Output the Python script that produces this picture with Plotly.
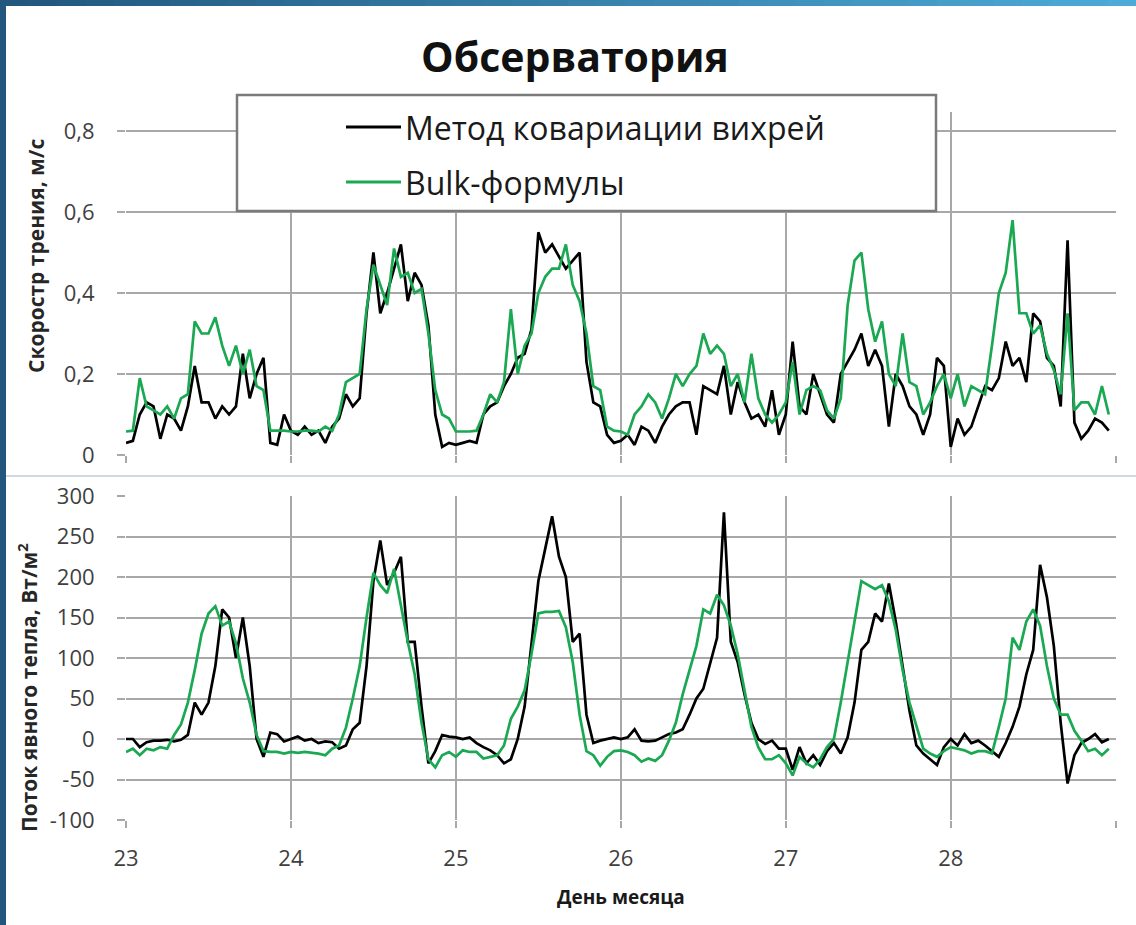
import numpy as np
import plotly.graph_objects as go
from plotly.subplots import make_subplots

# Observation days shown on the time axis
day_ticks = [23, 24, 25, 26, 27, 28, 29]
day_labels = ["23", "24", "25", "26", "27", "28", ""]

# Series names
series_names = ["Метод ковариации вихрей", "Bulk-формулы"]

# Hourly friction velocity, m/s (eddy covariance)
ustar_eddy = [
    0.03, 0.035, 0.10, 0.13, 0.12, 0.04, 0.10, 0.09, 0.06, 0.12, 0.22, 0.13, 0.13, 0.09, 0.12, 0.10, 0.12, 0.25, 0.14, 0.20, 0.24, 0.03, 0.025, 0.10,
    0.06, 0.05, 0.07, 0.05, 0.06, 0.03, 0.07, 0.09, 0.15, 0.12, 0.14, 0.35, 0.50, 0.35, 0.40, 0.46, 0.52, 0.38, 0.45, 0.42, 0.32, 0.10, 0.02, 0.03,
    0.025, 0.03, 0.035, 0.03, 0.10, 0.12, 0.13, 0.17, 0.20, 0.24, 0.25, 0.31, 0.55, 0.50, 0.52, 0.49, 0.46, 0.48, 0.50, 0.23, 0.13, 0.12, 0.05, 0.03,
    0.035, 0.05, 0.025, 0.07, 0.06, 0.03, 0.07, 0.10, 0.12, 0.13, 0.13, 0.05, 0.17, 0.16, 0.15, 0.22, 0.10, 0.18, 0.13, 0.09, 0.10, 0.07, 0.16, 0.05,
    0.10, 0.28, 0.12, 0.10, 0.20, 0.15, 0.10, 0.08, 0.20, 0.23, 0.26, 0.30, 0.22, 0.26, 0.22, 0.07, 0.20, 0.17, 0.12, 0.10, 0.05, 0.10, 0.24, 0.22,
    0.02, 0.09, 0.05, 0.07, 0.12, 0.17, 0.16, 0.19, 0.28, 0.22, 0.24, 0.18, 0.35, 0.33, 0.24, 0.22, 0.12, 0.53, 0.08, 0.04, 0.06, 0.09, 0.08, 0.06,
]

# Hourly friction velocity, m/s (bulk formulas)
ustar_bulk = [
    0.058, 0.06, 0.19, 0.12, 0.11, 0.10, 0.12, 0.09, 0.14, 0.15, 0.33, 0.30, 0.30, 0.34, 0.27, 0.22, 0.27, 0.20, 0.26, 0.17, 0.16, 0.06, 0.06, 0.06,
    0.058, 0.058, 0.06, 0.06, 0.058, 0.07, 0.06, 0.10, 0.18, 0.19, 0.20, 0.36, 0.47, 0.42, 0.37, 0.51, 0.44, 0.45, 0.40, 0.41, 0.30, 0.16, 0.10, 0.09,
    0.058, 0.058, 0.058, 0.06, 0.10, 0.15, 0.13, 0.18, 0.36, 0.20, 0.27, 0.30, 0.40, 0.44, 0.46, 0.46, 0.52, 0.42, 0.38, 0.30, 0.17, 0.16, 0.07, 0.06,
    0.058, 0.05, 0.10, 0.12, 0.15, 0.13, 0.09, 0.14, 0.20, 0.17, 0.20, 0.22, 0.30, 0.25, 0.27, 0.25, 0.17, 0.20, 0.13, 0.25, 0.14, 0.10, 0.08, 0.10,
    0.13, 0.23, 0.10, 0.16, 0.17, 0.16, 0.11, 0.09, 0.14, 0.37, 0.48, 0.50, 0.36, 0.28, 0.33, 0.20, 0.17, 0.30, 0.18, 0.17, 0.10, 0.13, 0.17, 0.20,
    0.14, 0.20, 0.12, 0.17, 0.16, 0.15, 0.27, 0.40, 0.45, 0.58, 0.35, 0.35, 0.30, 0.32, 0.25, 0.21, 0.15, 0.35, 0.11, 0.13, 0.13, 0.10, 0.17, 0.10,
]

# Hourly sensible heat flux, W/m2 (eddy covariance)
hflux_eddy = [
    0, 0, -10, -4, -2, -2, -1, -3, -1, 5, 45, 30, 45, 90, 160, 150, 100, 150, 90, 0, -22, 8, 6, -3,
    0, 3, -2, 0, -5, -3, -4, -12, -8, 12, 20, 90, 195, 245, 190, 205, 225, 120, 120, 40, -30, -15, 5, 3,
    2, 0, 2, -5, -10, -14, -20, -30, -25, 0, 40, 120, 195, 235, 275, 225, 200, 120, 130, 30, -5, -2, 0, 2,
    0, 2, 12, -2, -3, -2, 2, 6, 8, 12, 30, 50, 62, 95, 125, 280, 120, 95, 55, 20, 0, -6, -2, -12,
    -12, -38, -10, -30, -20, -32, -15, -5, -18, 2, 45, 110, 120, 155, 145, 192, 145, 90, 35, -8, -18, -25, -32, -10,
    0, -8, 6, -5, -2, -8, -15, -22, -5, 15, 40, 80, 110, 215, 175, 115, 20, -55, -20, -5, 0, 6, -4, 0,
]

# Hourly sensible heat flux, W/m2 (bulk formulas)
hflux_bulk = [
    -16, -12, -20, -12, -14, -10, -12, 5, 18, 45, 85, 130, 155, 164, 140, 145, 118, 75, 45, 5, -15, -16, -16, -18,
    -16, -17, -16, -17, -18, -20, -12, -8, 14, 50, 90, 150, 205, 190, 180, 210, 165, 120, 80, 20, -25, -35, -20, -16,
    -22, -14, -16, -16, -24, -22, -20, -8, 25, 40, 60, 105, 155, 157, 157, 158, 138, 95, 30, -15, -20, -33, -22, -15,
    -14, -16, -20, -28, -24, -27, -20, -2, 20, 55, 85, 115, 160, 155, 178, 165, 140, 105, 60, 15, -10, -25, -25, -20,
    -30, -45, -22, -30, -35, -25, -10, 0, 45, 95, 150, 195, 190, 185, 190, 170, 135, 85, 45, 15, -12, -18, -22, -15,
    -10, -12, -14, -18, -15, -15, -18, 15, 50, 125, 110, 145, 160, 140, 90, 50, 30, 30, 10, -2, -15, -12, -20, -12,
]

# Time stamps: one sample per hour starting at the 23rd
day_time = 23 + np.arange(len(ustar_eddy)) / 24.0

W, H = 1136, 925
BLACK = "#000000"
GREEN = "#1aa852"
GRID = "#a8a8a8"
FONT = "Open Sans"
LW = 2.7

fig = make_subplots(rows=2, cols=1)

fig.add_trace(go.Scatter(x=day_time, y=ustar_eddy, mode="lines", name=series_names[0],
                         line=dict(color=BLACK, width=LW)), row=1, col=1)
fig.add_trace(go.Scatter(x=day_time, y=ustar_bulk, mode="lines", name=series_names[1],
                         line=dict(color=GREEN, width=LW)), row=1, col=1)
fig.add_trace(go.Scatter(x=day_time, y=hflux_eddy, mode="lines", name=series_names[0],
                         line=dict(color=BLACK, width=LW)), row=2, col=1)
fig.add_trace(go.Scatter(x=day_time, y=hflux_bulk, mode="lines", name=series_names[1],
                         line=dict(color=GREEN, width=LW)), row=2, col=1)


def px_x(v):
    return v / W


def px_y(v):
    return 1 - v / H


xdom = [px_x(126), px_x(1116)]
tickfont = dict(family=FONT, size=22, color="#3f3f3f")

fig.update_xaxes(range=[23, 29.002], tickvals=day_ticks, ticktext=day_labels, showgrid=True,
                 gridcolor=GRID, gridwidth=1.5, ticks="outside", ticklen=7, tickcolor=GRID,
                 tickwidth=1.5, zeroline=False, showline=False, domain=xdom, tickfont=tickfont,
                 automargin=False)
fig.update_xaxes(showticklabels=False, row=1, col=1)
fig.update_xaxes(ticklabelstandoff=12, row=2, col=1)

fig.update_yaxes(range=[0, 0.847], tickvals=[0, 0.2, 0.4, 0.6, 0.8],
                 ticktext=["0", "0,2", "0,4", "0,6", "0,8"],
                 domain=[px_y(455), px_y(112)], row=1, col=1)
fig.update_yaxes(range=[-100, 300], tickvals=list(range(-100, 301, 50)),
                 ticktext=[str(v) for v in range(-100, 301, 50)],
                 domain=[px_y(820), px_y(496)], row=2, col=1)
fig.update_yaxes(showgrid=True, gridcolor=GRID, gridwidth=1.5, ticks="outside", ticklen=8,
                 tickcolor=GRID, tickwidth=1.5, zeroline=False, showline=False,
                 tickfont=tickfont, ticklabelstandoff=18, automargin=False)

shapes = []
# legend frame
shapes.append(dict(type="rect", xref="paper", yref="paper", x0=px_x(237), x1=px_x(936),
                   y0=px_y(211), y1=px_y(95), fillcolor="white",
                   line=dict(color="#7a7a7a", width=2.5), layer="above"))
# legend line samples
for yy, col in ((127, BLACK), (182, GREEN)):
    shapes.append(dict(type="line", xref="paper", yref="paper", x0=px_x(346), x1=px_x(401),
                       y0=px_y(yy), y1=px_y(yy), line=dict(color=col, width=3), layer="above"))
# panel separator
shapes.append(dict(type="line", xref="paper", yref="paper", x0=0, x1=1, y0=px_y(476), y1=px_y(476),
                   line=dict(color="#cdd8e0", width=2), layer="above"))
# slide frame: gradient bar on top, solid bar on the left
nseg = 40
c0 = np.array([0x22, 0x57, 0x7e])
c1 = np.array([0x4d, 0xab, 0xd7])
for i in range(nseg):
    t = i / (nseg - 1)
    c = (c0 * (1 - t) + c1 * t).astype(int)
    shapes.append(dict(type="rect", xref="paper", yref="paper",
                       x0=i / nseg, x1=(i + 1) / nseg + 0.002, y0=px_y(6), y1=1,
                       fillcolor="rgb(%d,%d,%d)" % tuple(c), line=dict(width=0), layer="above"))
shapes.append(dict(type="rect", xref="paper", yref="paper", x0=0, x1=px_x(6), y0=0, y1=1,
                   fillcolor="#22567c", line=dict(width=0), layer="above"))

label_font = dict(family=FONT, size=21, color="#262626", weight="bold")
annotations = [
    dict(text="Обсерватория", xref="paper", yref="paper", x=px_x(575), y=px_y(56),
         showarrow=False, xanchor="center", yanchor="middle",
         font=dict(family=FONT, size=41, color="#111111", weight="bold")),
    dict(text="Скоростр трения, м/с", xref="paper", yref="paper", x=px_x(36), y=px_y(256),
         textangle=-90, showarrow=False, xanchor="center", yanchor="middle", font=label_font),
    dict(text="Поток явного тепла, Вт/м<sup>2</sup>", xref="paper", yref="paper", x=px_x(27),
         y=px_y(688), textangle=-90, showarrow=False, xanchor="center", yanchor="middle",
         font=label_font),
    dict(text="День месяца", xref="paper", yref="paper", x=px_x(621), y=px_y(897),
         showarrow=False, xanchor="center", yanchor="middle",
         font=dict(family=FONT, size=19, color="#1a1a1a", weight="bold")),
]
for yy, name in ((127, series_names[0]), (182, series_names[1])):
    annotations.append(dict(text=name, xref="paper", yref="paper", x=px_x(403), y=px_y(yy),
                            showarrow=False, xanchor="left", yanchor="middle",
                            font=dict(family=FONT, size=32, color="#1a1a1a")))

fig.update_layout(
    width=W, height=H,
    margin=dict(l=0, r=0, t=0, b=0, autoexpand=False),
    paper_bgcolor="white", plot_bgcolor="white",
    showlegend=False,
    shapes=shapes,
    annotations=annotations,
)

fig.write_html("out.html")
